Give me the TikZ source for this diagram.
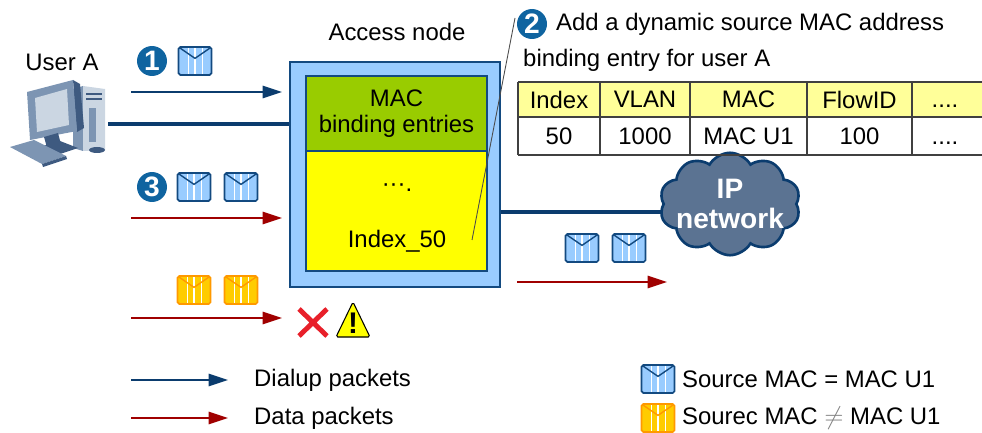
\documentclass[tikz,border=0pt]{standalone}
\usepackage{fontspec}
\setmainfont{Liberation Sans}
\usetikzlibrary{arrows.meta,shapes.symbols,calc}

\definecolor{linkblue}{HTML}{0B3C6E}
\definecolor{datared}{HTML}{A00000}
\definecolor{nodeblue}{HTML}{99CCFF}
\definecolor{nodeedge}{HTML}{134A80}
\definecolor{bindgreen}{HTML}{99CC00}
\definecolor{bindyellow}{HTML}{FFFF00}
\definecolor{headyellow}{HTML}{FFFF99}
\definecolor{stepblue}{HTML}{0F64A0}
\definecolor{cloudfill}{HTML}{5B7392}
\definecolor{mailorange}{HTML}{FFCC00}
\definecolor{mailedge}{HTML}{FF9900}
\definecolor{crossred}{HTML}{E8202A}
\definecolor{pcdark}{HTML}{3E5A80}
\definecolor{pcmid}{HTML}{7D95B3}
\definecolor{pclight}{HTML}{CBD6E2}

\tikzset{
  mail/.style 2 args={rectangle, inner sep=0pt, minimum width=0.66cm, minimum height=0.56cm,
    fill=#1, draw=#2, line width=1pt, rounded corners=1pt,
    path picture={
      \foreach \t in {0.3,0.5,0.72}
        \draw[white,line width=0.8pt,sharp corners]
          ($(path picture bounding box.north west)!\t!(path picture bounding box.north east)$) --
          ($(path picture bounding box.south west)!\t!(path picture bounding box.south east)$);
      \draw[#2,line width=0.8pt,sharp corners] (path picture bounding box.north west) --
        ([yshift=1.5pt]path picture bounding box.center) -- (path picture bounding box.north east);
    }},
  bluemail/.style={mail={nodeblue}{nodeedge}},
  orangemail/.style={mail={mailorange}{mailedge}},
  stepno/.style={circle, fill=stepblue, text=white, inner sep=0pt, minimum size=0.6cm,
    font=\bfseries\fontsize{16}{16}\selectfont},
  dialpkt/.style={linkblue, line width=0.9pt, -{Triangle[length=11pt,width=7pt]}},
  datapkt/.style={datared, line width=0.9pt, -{Triangle[length=11pt,width=7pt]}},
  uplink/.style={linkblue, line width=1.8pt},
}

\begin{document}
\begin{tikzpicture}[x=0.02cm,y=-0.02cm,font=\fontsize{13.6}{15}\selectfont]
\useasboundingbox (0,0) rectangle (982,432);

% user A and its PC
\node (usera) at (62,62) {User A};
\fill[pcmid] (73,89) -- (83,86) -- (83,151) -- (73,148) -- cycle;
\fill[pclight] (83,86) -- (105,89) -- (105,150) -- (83,151) -- cycle;
\fill[pcdark] (86,93) rectangle (102,95);
\fill[pcdark] (86,98) rectangle (102,100);
\fill[pcmid] (89,108) rectangle (96,142);
\fill[pcdark] (73,80) -- (80,84) -- (84,128) -- (77,132) -- cycle;
\fill[pcmid] (27,92) -- (73,80) -- (77,131) -- (30,140) -- cycle;
\fill[pclight] (35,98) -- (67,89) -- (69,125) -- (37,132) -- cycle;
\fill[pcdark] (44,137) -- (58,133) -- (62,148) -- (48,151) -- cycle;
\fill[pcdark] (36,148) -- (60,141) -- (78,148) -- (54,156) -- cycle;
\fill[pcmid] (10,147) -- (34,140) -- (66,156) -- (42,164) -- cycle;
\fill[pcdark] (42,164) -- (66,156) -- (67,159) -- (43,167) -- cycle;
\fill[pcdark] (97,150) ellipse (8 and 3);
\coordinate (pc) at (108,124);

% access node
\node (accesslbl) at (397,32) {Access node};
\node[draw=nodeedge, fill=nodeblue, line width=1.2pt, minimum width=4.2cm, minimum height=4.5cm] (access) at (395,174.5) {};
\node[draw=nodeedge, fill=bindgreen, line width=0.8pt, minimum width=3.62cm, minimum height=1.5cm, align=center] (bindhead) at (396.5,113.5) {MAC\\binding entries};
\node[draw=nodeedge, fill=bindyellow, line width=0.8pt, minimum width=3.62cm, minimum height=2.4cm] (bindbody) at (396.5,211) {};
\node (dots) at (397,183) {\vphantom{I}···.};
\node (idx) at (397,241) {Index\_50};
\coordinate (bindtip) at (472,240);

\draw[uplink] (pc) -- (access.west |- pc);

% step 1: dialup
\node[stepno] (s1) at (152,61) {1};
\node[bluemail] (m1) at (195,61) {};
\coordinate (a1) at (131,92);
\draw[dialpkt, shorten >=0.14cm] (a1) -- (access.west |- a1);

% step 3: data with the bound MAC
\node[stepno] (s3) at (152,187) {3};
\node[bluemail] (m3a) at (194,187) {};
\node[bluemail] (m3b) at (241,187) {};
\coordinate (a3) at (131,218);
\draw[datapkt, shorten >=0.14cm] (a3) -- (access.west |- a3);

% data with another MAC is dropped
\node[orangemail] (m4a) at (194,290) {};
\node[orangemail] (m4b) at (241,290) {};
\coordinate (a4) at (131,318);
\draw[datapkt, shorten >=0.14cm] (a4) -- (access.west |- a4);
\draw[crossred, line width=2.8pt] (299,309) -- (327,336) (327,309) -- (299,336);
\filldraw[fill=bindyellow, draw=black, line width=0.6pt, rounded corners=1pt] (336,337) -- (353,302) -- (370,337) -- cycle;
\node[font=\bfseries\fontsize{17}{17}\selectfont, inner sep=0pt] (warn) at (353,323) {!};

% uplink to the IP network
\coordinate (up) at (680,212);
\draw[uplink] (access.east |- up) -- (up);
\node[cloud, cloud puffs=10, cloud puff arc=120, aspect=1.6, draw=linkblue, fill=cloudfill, line width=1.5pt,
  minimum width=2.3cm, minimum height=1.35cm, inner sep=-4pt, text=white, align=center,
  font=\bfseries\fontsize{16}{17}\selectfont] (ipnet) at (730,204) {IP\\network};
\node[bluemail] (m5a) at (582,248) {};
\node[bluemail] (m5b) at (629,248) {};
\coordinate (o1) at (517,282);
\coordinate (o2) at (667,282);
\draw[datapkt] (o1) -- (o2);

% step 2: binding entry
\node[stepno] (s2) at (532,24) {2};
\node[anchor=west] (note1) at (550,24) {Add a dynamic source MAC address};
\node[anchor=west] (note2) at (517,60) {binding entry for user A};
\coordinate (notetip) at (515,18);
\draw[black!70, line width=0.5pt] (bindtip) -- (notetip);

\fill[headyellow] (518,82) rectangle (982,117);
\draw[black!75, line width=0.6pt] (518,82) -- (982,82) (518,117) -- (982,117) (518,155) -- (982,155);
\foreach \x in {518,600,690,807,912}
  \draw[black!75, line width=0.6pt] (\x,82) -- (\x,155);
\foreach \x/\h/\v [count=\i] in {559/Index/50, 645/VLAN/1000, 748.5/MAC/MAC U1, 859.5/FlowID/100}{
  \node (head\i) at (\x,99.5) {\h};
  \node (cell\i) at (\x,136) {\v};
}
\node (head5) at (945,99.5) {\vphantom{I}{.}{.}{.}{.}};
\node (cell5) at (945,136) {\vphantom{0}{.}{.}{.}{.}};

% legend
\coordinate (l1) at (131,380);
\coordinate (l1e) at (228,380);
\draw[dialpkt] (l1) -- (l1e);
\node[anchor=west] (leg1) at (248,380) {Dialup packets};
\coordinate (l2) at (131,418);
\coordinate (l2e) at (228,418);
\draw[datapkt] (l2) -- (l2e);
\node[anchor=west] (leg2) at (248,418) {Data packets};
\node[bluemail] (legm1) at (658,379) {};
\node[anchor=west] (leg3) at (676,379) {Source MAC = MAC U1};
\node[orangemail] (legm2) at (658,418) {};
\node[anchor=west] (leg4) at (676,418) {Sourec MAC {\color{gray}$\neq$} MAC U1};

\end{tikzpicture}
\end{document}
